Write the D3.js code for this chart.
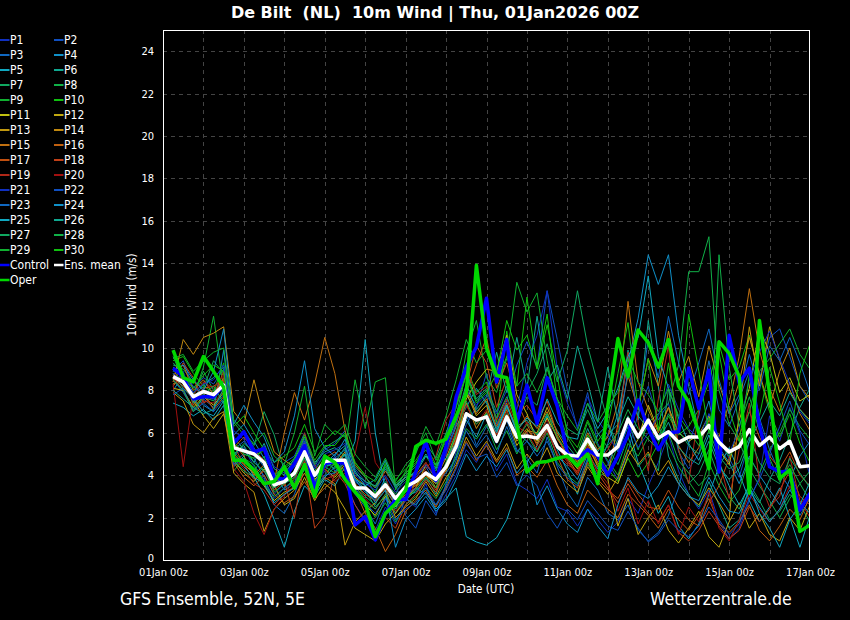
<!DOCTYPE html>
<html>
<head>
<meta charset="utf-8">
<title>De Bilt 10m Wind</title>
<script src="https://cdn.jsdelivr.net/npm/d3@7"></script>
<style>
body { margin:0; background:#000; }
svg text { font-family: "DejaVu Sans Condensed", "DejaVu Sans", sans-serif; fill:#fff; }
</style>
</head>
<body>
<svg id="chart" width="850" height="620"></svg>
<script>
// 6-hourly steps, 01Jan 06z .. 17Jan 00z (64 values per series)
var startTime = Date.UTC(2026, 0, 1, 0);
var stepHours = 6;
var yTicks = [0,2,4,6,8,10,12,14,16,18,20,22,24];

var ensMean = [8.65,8.4,7.7,7.95, 7.8,8.25,5.3,5.15, 5.0,4.6,3.55,3.7, 4.1,5.1,4.0,4.65,
  4.7,4.7,3.4,3.4, 3.0,3.55,2.9,3.45, 3.7,4.1,3.8,4.4, 5.35,6.9,6.6,6.75,
  5.6,6.75,5.8,5.85, 5.75,6.35,5.35,4.95, 4.9,5.7,4.95,4.95, 5.35,6.65,5.8,6.6,
  5.75,6.05,5.55,5.8, 5.8,6.35,5.55,5.1, 5.35,6.15,5.4,5.8, 5.25,5.6,4.4,4.45];

var control = [9.05,8.65,7.6,7.7, 7.7,8.25,5.5,6.05, 5.1,5.25,3.9,3.8, 4.55,5.4,3.4,4.55,
  4.65,4.55,1.65,2.05, 0.95,2.2,2.85,2.85, 4.15,5.6,3.75,5.35, 7.7,9.1,10.05,12.35,
  8.4,10.4,6.45,8.25, 6.45,8.6,7.25,5.05, 4.8,5.2,4.9,4.0, 4.9,5.9,7.55,6.2,
  5.2,6.0,6.05,9.05, 7.15,8.95,4.15,10.6, 8.35,9.05,6.35,4.4, 4.15,4.2,2.35,3.15];

var oper = [9.9,8.6,8.4,9.6, 8.9,8.15,4.7,4.7, 4.25,3.6,3.7,4.4, 3.4,4.5,3.0,4.9,
  4.6,3.8,3.2,2.7, 1.1,2.2,2.65,3.3, 5.35,5.65,5.5,5.7, 6.8,7.85,13.9,10.0,
  8.7,8.6,6.4,4.15, 4.6,4.65,4.8,4.9, 4.45,5.0,3.6,7.25, 10.45,8.65,10.85,10.25,
  9.1,10.4,8.2,7.45, 6.0,4.3,10.3,9.75, 8.65,3.15,11.3,7.85, 3.85,4.25,1.35,1.65];

var p01 = [8.2,8.9,7.4,8.0, 7.5,8.6,4.9,5.3, 4.4,4.0,3.1,3.6, 3.9,4.8,3.5,4.2, 4.9,3.8,2.6,1.9, 1.4,2.5,1.7,2.9, 2.5,3.6,2.2,3.1, 4.0,5.2,4.6,5.5,
  4.2,5.0,3.6,3.3, 2.9,3.8,2.5,2.3, 1.6,2.4,1.9,1.3, 1.8,2.9,2.2,3.5, 4.6,5.9,4.2,3.1, 2.4,3.3,1.8,1.0, 1.5,2.8,3.9,6.8, 5.6,7.2,6.0,3.9];
var p02 = [8.9,9.4,8.1,8.6, 8.3,9.0,5.6,6.0, 5.3,4.5,3.8,4.6, 4.9,6.0,4.4,5.2, 5.5,6.1,4.3,3.7, 3.2,4.5,3.6,2.1, 1.5,2.8,2.1,3.6, 5.1,6.4,7.2,8.8,
  6.4,7.5,9.2,10.3, 9.1,12.7,10.4,8.0, 6.2,7.9,5.5,4.6, 3.8,5.1,6.9,8.2, 6.6,7.4,5.1,4.3, 5.0,6.9,5.7,4.8, 3.9,5.6,8.5,10.5, 10.9,9.6,8.2,7.4];
var p03 = [8.5,7.9,7.1,7.6, 7.2,7.8,4.6,5.0, 4.8,3.9,2.6,2.2, 3.1,4.4,3.6,4.9, 4.2,4.6,3.1,2.5, 1.7,2.9,2.4,3.5, 3.9,4.4,3.6,4.1, 4.8,6.9,5.4,6.3,
  5.5,6.6,5.2,4.8, 4.1,5.8,4.4,3.2, 2.5,3.9,3.3,2.2, 1.9,2.6,1.4,0.9, 1.3,2.1,3.4,5.5, 6.8,9.4,7.1,6.3, 7.6,8.9,6.7,5.2, 4.1,3.4,2.1,2.9];
var p04 = [8.0,8.7,7.9,7.3, 7.0,9.9,5.9,6.4, 5.6,4.8,4.1,3.3, 3.6,4.3,3.9,4.5, 5.0,5.4,3.8,3.2, 2.8,3.9,2.5,3.0, 3.2,3.8,4.4,5.1, 6.3,7.2,8.1,7.4,
  6.2,7.3,6.0,5.6, 5.1,6.2,4.9,4.4, 3.8,5.0,4.3,5.5, 6.9,9.3,11.4,14.4, 13.0,14.4,10.6,8.2, 6.1,7.5,5.3,4.6, 3.6,4.9,4.0,3.3, 2.6,3.8,4.9,5.6];
var p05 = [7.4,7.2,6.8,7.1, 6.6,7.3,4.4,4.9, 3.9,3.1,1.9,0.6, 2.3,3.5,3.0,3.8, 3.5,4.4,5.6,10.4, 6.0,3.3,2.6,2.9, 2.6,3.2,2.4,2.9, 3.4,1.1,0.85,0.7,
  1.05,1.9,3.3,4.6, 5.4,6.8,5.2,4.2, 3.1,4.7,5.9,6.4, 5.1,6.3,4.6,3.4, 2.2,3.0,1.6,1.0, 1.7,3.1,4.4,5.3, 4.1,2.8,1.8,2.5, 3.4,2.0,0.6,2.1];
var p06 = [8.8,8.1,7.6,8.3, 8.6,9.1,5.8,5.2, 4.6,5.5,4.3,4.0, 4.8,5.5,4.6,5.1, 5.3,4.9,3.9,3.3, 2.5,3.0,2.2,2.8, 3.3,3.9,3.1,4.5, 5.9,7.8,7.0,7.5,
  6.1,7.2,6.3,6.6, 5.9,6.9,6.1,5.4, 4.8,6.2,5.1,5.9, 6.4,9.9,6.6,11.3, 8.2,4.9,3.8,3.1, 2.5,3.7,2.6,1.5, 1.9,3.4,2.7,3.8, 4.7,5.9,7.2,8.1];
var p07 = [9.2,9.0,8.4,8.1, 9.4,8.8,6.6,6.1, 5.4,7.0,5.9,4.2, 4.5,5.3,3.7,4.6, 4.3,5.0,3.6,3.0, 2.6,3.7,3.1,4.0, 4.4,4.9,4.2,5.3, 6.8,8.9,7.6,8.1,
  7.0,8.2,6.4,7.7, 7.3,9.1,7.6,6.2, 5.9,7.1,6.0,5.3, 4.5,5.8,4.4,5.0, 4.2,8.1,5.2,3.6, 4.1,5.2,3.9,3.0, 2.4,3.6,2.8,1.9, 2.3,3.1,2.6,1.8];
var p08 = [9.6,8.5,7.8,8.9, 8.0,8.4,5.1,4.6, 4.2,4.9,3.4,3.9, 4.1,4.7,3.3,4.0, 4.6,4.2,3.2,2.8, 2.0,2.7,1.8,2.6, 3.0,3.4,2.9,3.7, 4.9,6.2,5.7,6.4,
  5.2,6.1,5.0,5.9, 5.1,6.0,4.6,4.0, 3.6,4.5,3.9,4.2, 5.4,6.6,5.2,6.5, 6.9,7.4,9.2,13.6, 13.6,15.25,8.0,6.4, 5.6,4.3,3.5,2.8, 2.0,2.9,3.6,4.2];
var p09 = [9.0,8.3,7.7,9.1, 11.5,8.0,4.2,4.8, 4.5,3.6,3.0,3.4, 3.8,4.9,4.2,5.0, 4.4,5.1,8.5,6.2, 8.4,8.6,3.3,4.2, 5.1,6.0,4.7,5.6, 7.2,9.8,11.3,8.6,
  7.9,9.5,13.1,11.7, 12.6,9.4,7.1,5.8, 5.0,6.5,5.4,4.7, 4.0,5.5,4.9,5.8, 6.3,5.4,4.4,3.7, 3.0,4.6,3.5,2.7, 3.3,4.8,4.1,5.2, 6.0,7.1,6.3,5.7];
var p10 = [9.4,9.6,8.8,8.2, 7.9,9.3,6.3,6.8, 6.0,5.2,4.6,4.9, 5.3,6.4,5.1,5.6, 6.1,5.8,4.6,4.0, 3.1,4.6,3.8,4.3, 4.7,5.4,4.5,5.9, 7.6,9.1,7.9,8.4,
  6.5,10.8,8.2,12.4, 9.1,11.6,7.4,5.1, 4.4,5.9,5.0,4.3, 3.7,4.8,3.9,4.6, 5.5,6.8,5.9,6.3, 7.1,8.4,10.2,8.5, 9.1,10.6,8.7,7.0, 5.8,6.9,5.5,4.6];
var p11 = [8.1,8.0,7.2,7.7, 7.3,7.9,5.0,4.5, 4.1,3.5,2.8,3.2, 3.4,4.6,3.8,4.3, 3.9,4.5,3.3,2.6, 2.1,3.0,2.5,3.3, 3.5,4.0,3.6,4.2, 5.3,7.6,8.4,9.0,
  8.9,10.6,7.8,6.9, 5.6,6.7,5.8,4.9, 4.3,5.6,4.6,3.9, 3.6,4.9,5.7,7.3, 6.1,7.2,6.0,5.6, 5.9,6.8,5.2,4.5, 6.6,8.1,10.9,9.8, 7.9,8.6,7.5,7.8];
var p12 = [8.3,8.6,7.5,6.8, 6.2,6.9,4.7,4.1, 3.7,4.3,3.5,2.6, 2.9,3.9,2.8,3.6, 3.2,2.4,1.5,1.2, 0.9,1.7,2.2,2.9, 3.4,4.5,3.9,4.8, 6.0,7.9,6.8,7.3,
  5.7,6.8,5.4,6.1, 6.0,7.2,6.0,5.2, 4.6,5.5,4.4,3.8, 1.6,2.9,1.2,2.0, 2.6,1.4,0.8,1.5, 2.3,1.1,0.6,1.8, 2.7,1.5,2.2,1.2, 0.9,2.0,1.4,2.6];
var p13 = [7.9,7.5,6.4,6.0, 6.7,7.0,4.1,3.6, 3.2,1.35,2.4,2.9, 3.3,4.1,3.2,3.9, 3.6,0.7,1.8,2.3, 2.7,3.3,2.0,2.5, 2.9,3.7,3.0,3.9, 4.5,5.8,4.9,5.6,
  4.7,5.5,4.3,5.0, 4.4,5.3,4.1,3.6, 3.2,4.4,3.7,3.1, 3.9,5.2,4.5,5.1, 4.0,4.7,3.6,3.0, 2.6,3.4,2.7,1.9, 7.0,11.0,8.2,11.0, 9.4,8.0,7.1,6.6];
var p14 = [8.4,10.4,9.7,10.5, 10.7,11.0,7.0,6.4, 8.5,6.6,5.1,4.7, 4.4,5.2,4.1,4.8, 4.5,5.1,3.9,3.5, 3.0,3.6,2.8,3.2, 3.6,4.2,3.4,4.6, 5.8,7.4,6.2,7.0,
  5.9,7.1,5.6,6.2, 5.5,6.4,5.3,4.8, 4.1,5.3,4.5,4.0, 6.4,8.7,7.1,9.5, 8.2,10.8,8.4,9.6, 7.7,10.1,8.3,6.9, 8.4,10.5,8.8,7.2, 8.9,10.0,8.2,7.6];
var p15 = [8.7,9.2,8.0,8.5, 7.8,8.6,5.5,4.9, 4.0,4.5,3.7,6.0, 7.9,6.6,8.3,10.5, 8.8,6.1,4.5,3.9, 3.4,4.2,3.5,3.9, 4.0,4.6,3.8,5.2, 6.4,8.1,6.9,7.6,
  6.3,7.4,6.1,6.8, 6.2,7.0,5.7,5.0, 4.7,6.0,5.2,5.8, 7.4,12.2,8.4,7.1, 6.0,7.2,5.4,4.6, 5.3,6.6,5.8,7.4, 9.6,12.8,9.9,8.1, 7.0,8.4,6.9,6.1];
var p16 = [8.2,8.8,7.3,7.9, 7.1,7.7,4.6,3.9, 3.5,4.0,3.1,2.7, 3.0,3.7,2.9,3.4, 3.8,4.3,3.3,2.2, 1.5,0.4,1.2,2.3, 2.8,3.3,2.5,3.4, 4.4,5.6,4.7,5.4,
  4.6,5.3,4.0,4.4, 3.9,4.7,3.5,2.6, 2.2,3.3,2.8,2.4, 2.0,3.1,2.6,2.1, 1.5,2.4,1.9,1.4, 2.1,2.9,1.7,1.3, 1.8,2.6,1.4,0.9, 1.6,2.4,1.9,3.0];
var p17 = [8.6,8.2,7.6,8.1, 8.2,8.5,5.3,5.8, 5.2,4.7,3.9,3.5, 4.6,5.5,4.0,4.8, 5.1,4.7,3.6,3.1, 2.8,3.4,2.6,3.1, 3.4,4.0,3.3,4.4, 5.6,7.9,9.2,10.5,
  8.1,9.3,7.5,6.4, 5.4,6.2,4.9,3.8, 3.4,4.6,3.8,3.3, 2.9,3.8,3.1,2.5, 2.4,3.3,2.5,1.9, 1.6,2.7,3.5,4.8, 5.9,7.0,5.8,4.9, 4.3,5.1,4.0,3.5];
var p18 = [8.4,9.3,8.6,7.4, 7.7,8.9,5.4,4.5, 3.8,4.2,3.3,3.7, 2.0,4.6,1.5,2.1, 4.2,3.6,2.6,1.8, 1.3,2.0,1.5,2.6, 3.1,3.8,3.2,4.3, 5.7,8.2,10.1,9.3,
  7.2,8.6,6.9,7.3, 6.6,7.5,5.9,4.7, 4.0,5.2,4.1,3.4, 2.7,3.6,2.8,2.2, 1.8,2.6,1.3,0.9, 1.4,2.3,1.6,1.0, 1.4,2.5,1.8,2.4, 3.3,4.2,3.0,2.6];
var p19 = [8.6,8.0,7.0,7.5, 7.4,8.0,4.8,4.3, 3.6,3.3,2.6,3.1, 3.5,6.0,4.5,3.8, 4.0,4.6,3.5,2.9, 2.4,3.1,2.3,2.8, 3.6,4.3,4.9,6.6, 7.4,9.0,7.8,8.2,
  6.6,7.6,6.3,6.0, 5.2,6.1,5.0,4.5, 4.2,5.4,4.6,5.2, 6.1,9.8,6.5,4.2, 7.6,10.1,5.2,3.6, 7.1,8.9,4.7,2.9, 5.2,7.4,3.7,2.5, 3.0,4.9,2.8,2.0];
var p20 = [8.3,4.4,7.8,8.4, 8.1,8.7,4.3,3.7, 2.2,1.2,2.4,3.0, 3.9,4.7,3.6,4.3, 3.7,4.1,5.0,7.2, 4.6,3.9,2.7,3.4, 3.8,4.6,3.9,5.0, 6.1,7.3,6.4,7.1,
  5.9,7.0,5.7,6.5, 5.8,6.6,5.4,4.6, 4.1,5.0,4.2,3.6, 2.3,3.4,1.7,2.8, 1.7,2.6,1.2,2.5, 1.8,3.2,1.5,0.9, 1.9,3.1,2.4,1.8, 2.4,3.5,2.6,3.2];
var p21 = [8.8,8.4,7.9,8.3, 8.5,9.2,6.1,5.7, 4.9,5.4,4.4,4.1, 4.6,5.7,4.3,5.0, 5.2,5.5,4.0,3.6, 3.3,4.0,3.2,3.7, 3.9,4.5,3.9,5.0, 6.5,8.0,7.3,7.8,
  6.9,8.0,7.1,9.3, 10.6,12.7,9.0,7.4, 6.3,7.7,6.6,5.9, 5.1,6.4,5.3,6.0, 6.8,8.3,7.1,6.2, 5.7,6.9,5.8,5.0, 6.2,8.5,9.8,10.8, 9.5,8.3,7.0,6.4];
var p22 = [7.8,8.1,7.0,7.4, 7.0,7.6,4.5,4.8, 4.3,3.8,2.9,3.4, 3.7,4.5,3.4,4.0, 4.1,4.8,3.4,2.7, 2.2,2.9,1.9,2.4, 2.7,3.4,2.6,3.3, 4.3,5.5,4.8,5.0,
  3.9,4.6,3.5,4.0, 3.5,2.2,1.5,2.4, 1.9,2.8,2.2,1.6, 1.4,2.3,1.5,0.85, 1.2,1.9,1.4,1.1, 1.6,2.5,1.9,1.2, 1.7,2.9,3.8,5.0, 6.3,7.5,6.1,5.4];
var p23 = [9.1,8.6,8.2,7.8, 7.6,8.3,5.2,5.6, 5.0,4.4,3.6,3.9, 4.4,5.6,4.1,4.7, 4.8,5.2,3.7,3.3, 2.9,3.6,2.7,3.0, 3.4,3.1,2.6,3.5, 4.7,6.1,5.3,5.9,
  5.0,6.3,5.1,5.6, 4.9,5.6,4.5,3.9, 3.5,4.8,4.0,4.5, 5.7,9.0,7.1,10.4, 8.6,11.5,9.3,7.8, 9.3,10.9,8.5,6.9, 7.8,9.7,8.0,10.1, 9.4,10.5,9.3,7.9];
var p24 = [8.9,9.2,8.5,8.0, 8.9,10.9,6.4,7.3, 6.5,5.8,4.6,5.1, 6.8,9.4,6.2,5.3, 4.9,5.7,4.2,3.5, 2.7,3.3,0.6,1.9, 2.4,3.0,2.3,2.8, 3.8,5.0,4.2,4.9,
  4.4,5.2,4.1,4.7, 2.6,3.5,2.4,1.7, 1.3,2.4,1.6,1.0, 2.6,3.9,3.2,2.9, 3.5,4.4,3.6,3.0, 2.8,3.9,3.0,2.3, 2.2,3.3,2.5,1.8, 2.4,3.3,2.7,2.2];
var p25 = [8.6,8.4,7.6,7.0, 6.8,7.5,4.9,4.4, 3.9,3.6,2.7,3.1, 3.4,4.3,3.2,3.9, 4.4,5.0,3.8,3.5, 3.8,4.7,3.5,3.9, 4.1,4.9,4.5,4.8, 5.5,6.6,5.8,6.9,
  6.0,7.3,6.1,6.7, 6.3,7.6,6.5,5.8, 5.7,7.4,6.2,7.0, 8.1,9.6,10.5,13.4, 9.6,8.1,6.7,5.5, 4.7,5.9,4.6,3.5, 2.6,3.5,2.2,1.5, 0.6,1.9,2.6,3.7];
var p26 = [8.0,7.6,7.2,6.9, 7.1,8.1,5.0,5.4, 4.6,4.2,3.4,3.8, 4.2,5.0,3.9,4.4, 4.6,5.3,4.1,3.7, 3.5,4.3,3.4,3.8, 4.2,5.0,4.3,5.4, 6.6,8.3,7.1,7.7,
  9.8,7.9,10.5,8.1, 11.5,8.4,9.2,7.6, 10.1,8.4,6.5,9.1, 6.5,7.7,6.8,6.2, 5.6,6.5,5.3,4.8, 4.5,5.6,4.4,3.8, 4.3,5.6,6.5,7.5, 6.8,7.9,7.1,6.5];
var p27 = [9.3,8.8,7.4,7.8, 8.2,7.4,4.9,5.5, 5.1,4.6,3.8,4.3, 4.7,5.8,4.5,5.3, 5.6,5.9,4.4,3.9, 3.4,4.4,3.5,4.1, 4.5,5.5,4.8,6.0, 7.3,8.8,7.5,8.0,
  6.7,7.7,6.6,7.9, 8.8,10.2,8.4,9.9, 12.7,10.1,8.3,6.5, 5.4,6.8,5.7,6.3, 5.8,6.9,6.1,5.4, 5.0,6.1,4.9,4.3, 4.6,5.8,4.6,3.9, 3.6,4.8,4.1,3.4];
var p28 = [8.5,8.0,7.0,7.7, 7.5,8.3,4.7,4.2, 3.9,4.4,3.2,3.6, 3.9,4.8,3.7,4.4, 4.1,4.6,3.5,2.8, 2.4,3.1,2.4,2.9, 3.3,3.9,3.4,4.6, 6.0,7.5,6.4,6.9,
  5.6,6.9,5.7,6.4, 5.9,6.9,5.8,5.1, 4.5,5.6,4.8,5.4, 6.0,7.1,6.2,5.7, 5.2,6.0,4.7,4.1, 3.5,4.0,14.4,9.1, 6.3,7.7,6.1,4.8, 3.7,4.5,3.6,2.8];
var p29 = [9.5,9.7,8.9,9.4, 9.8,10.0,6.5,5.9, 5.5,6.0,4.9,4.5, 6.0,8.2,4.9,6.4, 5.9,6.4,5.0,4.4, 3.9,4.8,3.7,4.5, 5.0,6.3,5.4,6.8, 8.5,10.4,9.3,9.9,
  8.3,9.6,8.2,8.8, 7.9,9.0,7.6,6.8, 6.1,7.4,6.5,7.3, 7.9,9.5,8.4,7.8, 7.0,8.1,6.8,6.1, 5.4,6.7,5.6,4.9, 5.5,7.0,8.9,9.5, 10.2,10.9,9.7,9.0];
var p30 = [9.0,8.6,8.1,8.7, 9.2,8.9,5.6,5.0, 4.8,5.2,4.0,4.4, 4.8,5.9,4.7,5.4, 5.4,6.0,4.6,4.0, 3.7,4.5,3.6,4.1, 4.6,5.2,4.4,5.8, 7.2,8.7,7.4,7.9,
  8.8,11.3,9.9,10.6, 9.0,11.1,8.7,5.9, 5.3,6.6,5.6,6.3, 8.8,11.2,7.1,9.5, 6.1,9.3,6.2,11.6, 8.9,6.0,9.8,7.1, 5.6,8.7,6.8,9.1, 7.4,5.5,8.8,10.2];

var members = [p01,p02,p03,p04,p05,p06,p07,p08,p09,p10,p11,p12,p13,p14,p15,
               p16,p17,p18,p19,p20,p21,p22,p23,p24,p25,p26,p27,p28,p29,p30];
var memberNames = members.map(function(d, i){ return "P" + (i + 1); });
var memberColors = ["#1030c0","#1050c0","#1068c0","#1090c8","#10a8c0",
                    "#10a890","#10a860","#10b048","#10b030","#10c010",
                    "#c0c010","#c0a810","#c09810","#c08810","#c07010",
                    "#c06010","#c05010","#c04018","#b02818","#a01010"];

var svg = d3.select("#chart");
svg.append("rect").attr("width", 850).attr("height", 620).attr("fill", "#000");

var plotLeft = 163, plotRight = 810, plotTop = 30, plotBottom = 560;

var x = d3.scaleUtc()
  .domain([new Date(startTime), new Date(Date.UTC(2026, 0, 17, 0))])
  .range([plotLeft, plotRight]);
var y = d3.scaleLinear().domain([0, 25]).range([plotBottom, plotTop]);

var times = ensMean.map(function(d, i){
  return new Date(startTime + (i + 1) * stepHours * 3600000);
});

// grid
var grid = svg.append("g").attr("stroke", "#444").attr("stroke-dasharray", "4,4").attr("stroke-width", 1);
grid.selectAll("line.h").data(yTicks.slice(1)).enter().append("line")
  .attr("x1", plotLeft).attr("x2", plotRight)
  .attr("y1", function(d){ return Math.round(y(d)) + 0.5; })
  .attr("y2", function(d){ return Math.round(y(d)) + 0.5; });
grid.selectAll("line.v").data(x.ticks(d3.utcDay.every(1)).slice(1, -1)).enter().append("line")
  .attr("y1", plotTop).attr("y2", plotBottom)
  .attr("x1", function(d){ return Math.round(x(d)) + 0.5; })
  .attr("x2", function(d){ return Math.round(x(d)) + 0.5; });

// axes
var fmt = d3.utcFormat("%d%b %Hz");
var xAxis = svg.append("g").attr("transform", "translate(0," + plotBottom + ")")
  .call(d3.axisBottom(x).ticks(d3.utcDay.every(2)).tickFormat(fmt).tickSize(0).tickPadding(8));
var yAxis = svg.append("g").attr("transform", "translate(" + plotLeft + ",0)")
  .call(d3.axisLeft(y).tickValues(yTicks).tickSize(0).tickPadding(9));
[xAxis, yAxis].forEach(function(a){
  a.select(".domain").remove();
  a.selectAll("text").attr("fill", "#fff").style("font-size", "11px")
    .style("font-family", "'DejaVu Sans Condensed', 'DejaVu Sans', sans-serif");
});
// the zero label sits a touch above its gridline in the original
yAxis.selectAll(".tick text").filter(function(d){ return d === 0; }).attr("dy", "0.1em");

svg.append("clipPath").attr("id", "plotclip").append("rect")
  .attr("x", plotLeft).attr("y", plotTop).attr("width", plotRight - plotLeft).attr("height", plotBottom - plotTop);

var line = d3.line()
  .x(function(d, i){ return x(times[i]); })
  .y(function(d){ return y(d); });

var plot = svg.append("g").attr("clip-path", "url(#plotclip)");
plot.selectAll("path.member").data(members).enter().append("path")
  .attr("class", "member")
  .attr("fill", "none")
  .attr("stroke", function(d, i){ return memberColors[i % 20]; })
  .attr("stroke-width", 1)
  .attr("d", line);

plot.append("path").datum(control).attr("fill", "none").attr("stroke", "#0000ff")
  .attr("stroke-width", 3.5).attr("stroke-linejoin", "round").attr("d", line);
plot.append("path").datum(ensMean).attr("fill", "none").attr("stroke", "#ffffff")
  .attr("stroke-width", 3.5).attr("stroke-linejoin", "round").attr("d", line);
plot.append("path").datum(oper).attr("fill", "none").attr("stroke", "#00d800")
  .attr("stroke-width", 3.5).attr("stroke-linejoin", "round").attr("d", line);

// frame
svg.append("rect").attr("x", plotLeft + 0.5).attr("y", plotTop + 0.5)
  .attr("width", plotRight - plotLeft - 1).attr("height", plotBottom - plotTop)
  .attr("fill", "none").attr("stroke", "#fff").attr("stroke-width", 1);

// titles
svg.append("text").attr("x", 435).attr("y", 18).attr("text-anchor", "middle")
  .style("font-family", "'DejaVu Sans', sans-serif").style("font-weight", "bold").style("font-size", "16px")
  .style("white-space", "pre")
  .text("De Bilt  (NL)  10m Wind | Thu, 01Jan2026 00Z");
svg.append("text").attr("transform", "translate(136,295) rotate(-90)").attr("text-anchor", "middle")
  .style("font-size", "11.5px").text("10m Wind (m/s)");
svg.append("text").attr("x", 486).attr("y", 593).attr("text-anchor", "middle")
  .style("font-size", "11.5px").text("Date (UTC)");
svg.append("text").attr("x", 120).attr("y", 605).style("font-size", "17.5px").text("GFS Ensemble, 52N, 5E");
svg.append("text").attr("x", 650).attr("y", 605).style("font-size", "17.5px").text("Wetterzentrale.de");

// legend
var legendItems = memberNames.map(function(n, i){ return { name: n, color: memberColors[i % 20], w: 2 }; });
legendItems.push({ name: "Control", color: "#0000ff", w: 2.5 });
legendItems.push({ name: "Ens. mean", color: "#ffffff", w: 2.5 });
legendItems.push({ name: "Oper", color: "#00d800", w: 2.5 });

var legend = svg.append("g");
var li = legend.selectAll("g").data(legendItems).enter().append("g")
  .attr("transform", function(d, i){
    return "translate(" + (i % 2 ? 54 : 0) + "," + (40 + Math.floor(i / 2) * 15) + ")";
  });
li.append("line").attr("x1", 0).attr("x2", 9.5).attr("y1", 0).attr("y2", 0)
  .attr("stroke", function(d){ return d.color; })
  .attr("stroke-width", function(d){ return d.w; });
li.append("text").attr("x", 10).attr("y", 4).style("font-size", "12px")
  .text(function(d){ return d.name; });
</script>
</body>
</html>
